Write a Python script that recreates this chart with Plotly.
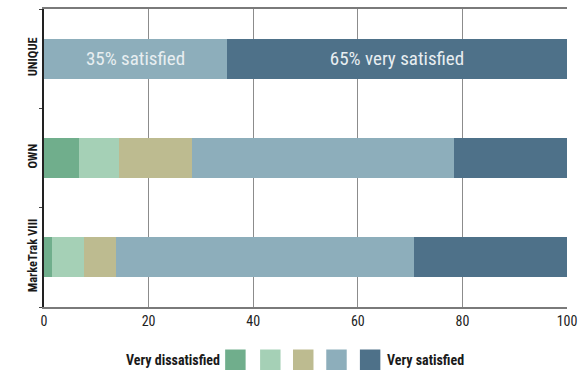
import plotly.graph_objects as go

categories = ["MarkeTrak VIII", "OWN", "UNIQUE"]
levels = ["Very dissatisfied", "Dissatisfied", "Neutral", "Satisfied", "Very satisfied"]
very_dissatisfied = [1.6, 6.7, 0]
dissatisfied = [6.0, 7.6, 0]
neutral = [6.2, 14.0, 0]
satisfied = [56.9, 50.0, 35]
very_satisfied = [29.3, 21.7, 65]
bar_labels = {
    "Satisfied": ["", "", "35% satisfied"],
    "Very satisfied": ["", "", "65% very satisfied"],
}
colors = ["#70ae8c", "#a5d0b6", "#bdbb90", "#8daebb", "#4e7189"]
series = [very_dissatisfied, dissatisfied, neutral, satisfied, very_satisfied]

W, H = 580, 389
L, R, T, B = 43.5, 567.5, 9, 307

def px(x):
    return (x - L) / (R - L)

def py(y):
    return (B - y) / (B - T)

FONT = "Liberation Sans Narrow, Arial Narrow, Roboto Condensed, sans-serif"

fig = go.Figure()
for name, vals, col in zip(levels, series, colors):
    fig.add_trace(go.Bar(
        y=categories, x=vals, orientation="h", name=name,
        marker=dict(color=col, line=dict(width=0)),
        text=bar_labels.get(name, [""] * len(vals)),
        textposition="inside", insidetextanchor="middle",
        textangle=0, constraintext="none",
        textfont=dict(family=FONT, size=19, color="#e8eef1"),
        hoverinfo="skip", width=0.4,
    ))

shapes = []
annotations = []
sw_x = [225, 260, 293, 326.3, 360]
for x0, col in zip(sw_x, colors):
    shapes.append(dict(type="rect", xref="paper", yref="paper",
                       x0=px(x0), x1=px(x0 + 20.5), y0=py(370), y1=py(349.5),
                       fillcolor=col, line=dict(width=0)))
annotations.append(dict(xref="paper", yref="paper", x=px(222), y=py(359.5),
                        text="<b>Very dissatisfied</b>", showarrow=False,
                        xanchor="right", yanchor="middle",
                        font=dict(family=FONT, size=14, color="#1a1a1a")))
annotations.append(dict(xref="paper", yref="paper", x=px(385), y=py(359.5),
                        text="<b>Very satisfied</b>", showarrow=False,
                        xanchor="left", yanchor="middle",
                        font=dict(family=FONT, size=14, color="#1a1a1a")))

fig.update_layout(
    width=W, height=H, barmode="stack", showlegend=False,
    margin=dict(l=L, r=W - R, t=T, b=H - B, pad=0, autoexpand=False),
    plot_bgcolor="white", paper_bgcolor="white",
    shapes=shapes, annotations=annotations,
    xaxis=dict(range=[0, 100], tickvals=[0, 20, 40, 60, 80, 100],
               showgrid=True, gridcolor="#8c8c8c", gridwidth=1,
               showline=True, linecolor="#7a7a7a", linewidth=2, mirror=True,
               zeroline=False, ticks="", automargin=False,
               tickfont=dict(family=FONT, size=14, color="#222222")),
    yaxis=dict(range=[-0.5, 2.5], showgrid=False, zeroline=False,
               showline=True, linecolor="#222222", linewidth=1.5,
               tickangle=-90, ticks="outside", tickson="boundaries",
               ticklen=3, tickcolor="#444444", automargin=False,
               tickfont=dict(family=FONT, size=12.5, color="#1a1a1a")),
)
fig.update_yaxes(ticktext=["<b>MarkeTrak VIII</b>", "<b>OWN</b>", "<b>UNIQUE</b>"],
                 tickvals=categories)
fig.write_html("out.html", config={"displayModeBar": False},
               post_script="document.body.style.margin='0';document.body.style.overflow='hidden';")
